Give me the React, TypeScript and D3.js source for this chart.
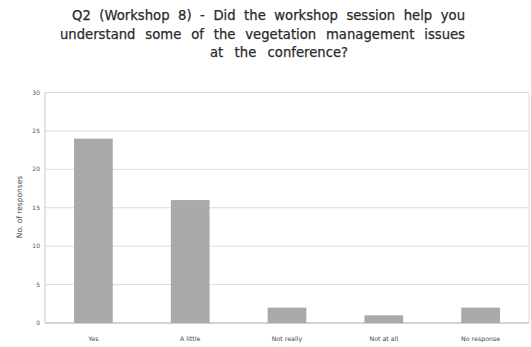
import React, { useLayoutEffect, useRef } from "react";
import * as d3 from "d3";

const categories = ["Yes", "A little", "Not really", "Not at all", "No response"];
const values = [24, 16, 2, 1, 2];
const yTicks = [0, 5, 10, 15, 20, 25, 30];
const titleLines = [
  "Q2 (Workshop 8) - Did the workshop session help you",
  "understand some of the vegetation management issues",
  "at the conference?",
];
const titleStarts = [72, 60, 210];
const titleWidths = [393, 405, 138];

export default function App() {
  const W = 531, H = 347;
  const left = 45, right = 529, top = 92.5, bottom = 323;
  const x = d3.scaleBand<string>().domain(categories).range([left, right]).paddingInner(0.6).paddingOuter(0.3);
  const y = d3.scaleLinear().domain([0, 30]).range([bottom, top]);
  const titleRef = useRef<SVGGElement>(null);
  useLayoutEffect(() => {
    if (!titleRef.current) return;
    d3.select(titleRef.current).selectAll<SVGTextElement, unknown>("text").each(function (_d, i) {
      this.setAttribute("word-spacing", "0");
      const len = this.getComputedTextLength();
      const spaces = titleLines[i].split(" ").length - 1;
      const ws = (titleWidths[i] - len) / spaces;
      this.setAttribute("word-spacing", String(ws));
    });
  }, []);
  return (
    <svg width={W} height={H} style={{ position: "absolute", left: 0, top: 0, background: "#fff" }}
      fontFamily="DejaVu Sans, sans-serif">
      <g ref={titleRef}>
        {titleLines.map((t, i) => (
          <text key={i} x={titleStarts[i]} y={20 + i * 18.5} fontSize={13.2} fill="#2a2a2a"
            stroke="#2a2a2a" strokeWidth={0.25}>{t}</text>
        ))}
      </g>
      {yTicks.map((t) => (
        <g key={t}>
          <line x1={left} x2={right} y1={y(t)} y2={y(t)} stroke="#dcdcdc" strokeWidth={1} />
          <text x={40} y={y(t) + 2} textAnchor="end" fontSize={6} fill="#555">{t}</text>
        </g>
      ))}
      <line x1={left} x2={left} y1={top} y2={bottom} stroke="#c8c8c8" />
      <line x1={right} x2={right} y1={top} y2={bottom} stroke="#dcdcdc" />
      <line x1={left} x2={right} y1={bottom} y2={bottom} stroke="#b8b8b8" />
      {categories.map((c, i) => (
        <g key={c}>
          <rect x={x(c)} y={y(values[i])} width={x.bandwidth()} height={bottom - y(values[i])} fill="#a9a9a9" />
          <text x={(x(c) as number) + x.bandwidth() / 2} y={341} textAnchor="middle" fontSize={6.3} fill="#444">{c}</text>
        </g>
      ))}
      <text transform={`translate(22,207) rotate(-90)`} textAnchor="middle" fontSize={7.5} fill="#444">No. of responses</text>
    </svg>
  );
}
